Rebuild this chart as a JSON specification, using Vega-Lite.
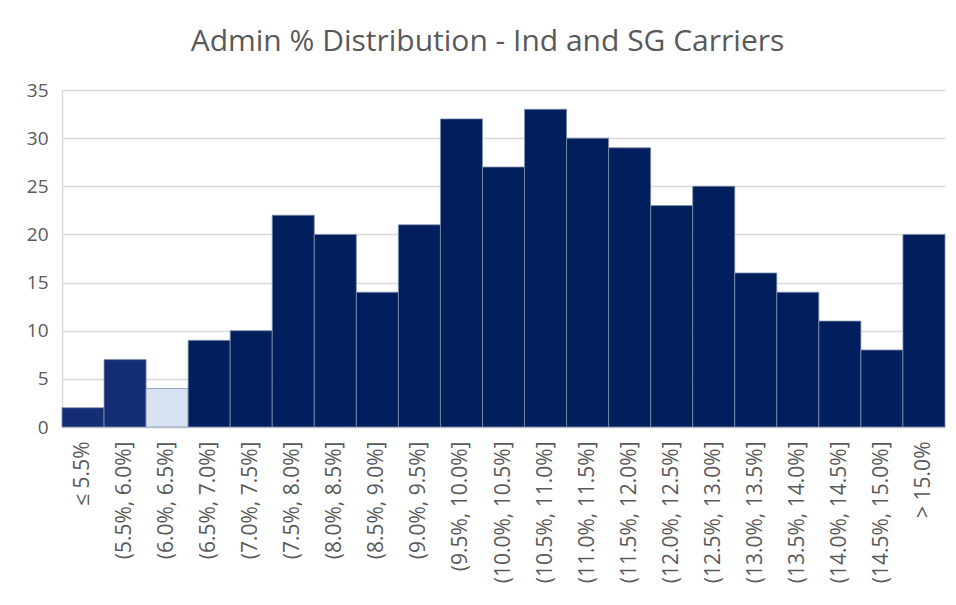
{
  "$schema": "https://vega.github.io/schema/vega-lite/v6.json",
  "autosize": "none",
  "width": 883,
  "height": 337,
  "padding": {"left": 62, "top": 90, "right": 11, "bottom": 178},
  "background": "#ffffff",
  "title": {
    "text": "Admin % Distribution - Ind and SG Carriers",
    "font": "Open Sans",
    "fontSize": 30,
    "fontWeight": "normal",
    "color": "#595959",
    "anchor": "middle",
    "dx": -16,
    "offset": 24
  },
  "config": {
    "view": {"stroke": null},
    "axis": {"labelFont": "Open Sans", "labelColor": "#595959", "titleColor": "#595959"}
  },
  "data": {
    "values": [
      {"bin": "≤ 5.5%", "count": 2, "group": "a"},
      {"bin": "(5.5%, 6.0%]", "count": 7, "group": "a"},
      {"bin": "(6.0%, 6.5%]", "count": 4, "group": "b"},
      {"bin": "(6.5%, 7.0%]", "count": 9, "group": "c"},
      {"bin": "(7.0%, 7.5%]", "count": 10, "group": "c"},
      {"bin": "(7.5%, 8.0%]", "count": 22, "group": "c"},
      {"bin": "(8.0%, 8.5%]", "count": 20, "group": "c"},
      {"bin": "(8.5%, 9.0%]", "count": 14, "group": "c"},
      {"bin": "(9.0%, 9.5%]", "count": 21, "group": "c"},
      {"bin": "(9.5%, 10.0%]", "count": 32, "group": "c"},
      {"bin": "(10.0%, 10.5%]", "count": 27, "group": "c"},
      {"bin": "(10.5%, 11.0%]", "count": 33, "group": "c"},
      {"bin": "(11.0%, 11.5%]", "count": 30, "group": "c"},
      {"bin": "(11.5%, 12.0%]", "count": 29, "group": "c"},
      {"bin": "(12.0%, 12.5%]", "count": 23, "group": "c"},
      {"bin": "(12.5%, 13.0%]", "count": 25, "group": "c"},
      {"bin": "(13.0%, 13.5%]", "count": 16, "group": "c"},
      {"bin": "(13.5%, 14.0%]", "count": 14, "group": "c"},
      {"bin": "(14.0%, 14.5%]", "count": 11, "group": "c"},
      {"bin": "(14.5%, 15.0%]", "count": 8, "group": "c"},
      {"bin": "> 15.0%", "count": 20, "group": "c"}
    ]
  },
  "mark": {"type": "bar", "stroke": "#8090ad", "strokeWidth": 0.8},
  "encoding": {
    "x": {
      "field": "bin",
      "type": "nominal",
      "sort": null,
      "scale": {"paddingInner": 0, "paddingOuter": 0},
      "axis": {
        "title": null,
        "labelAngle": -90,
        "labelFontSize": 21,
        "labelPadding": 14,
        "ticks": false,
        "domainColor": "#D9D9D9",
        "domainWidth": 1.5,
        "grid": false
      }
    },
    "y": {
      "field": "count",
      "type": "quantitative",
      "scale": {"domain": [0, 35]},
      "axis": {
        "title": null,
        "values": [0, 5, 10, 15, 20, 25, 30, 35],
        "labelFontSize": 19,
        "labelPadding": 14,
        "ticks": false,
        "domainColor": "#D9D9D9",
        "domainWidth": 1.5,
        "gridColor": "#D9D9D9",
        "gridWidth": 1.5
      }
    },
    "color": {
      "field": "group",
      "type": "nominal",
      "scale": {"domain": ["a", "b", "c"], "range": ["#142D74", "#D9E2F3", "#001F5C"]},
      "legend": null
    }
  }
}
